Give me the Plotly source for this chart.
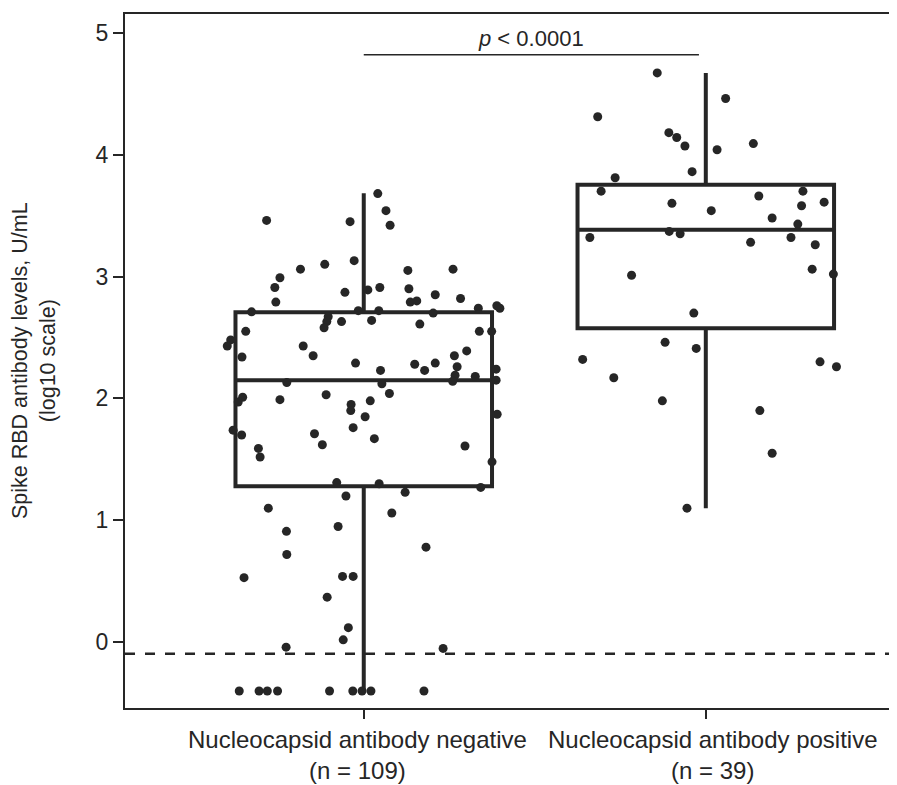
import plotly.graph_objects as go

# ---------------- data ----------------
categories = ["Nucleocapsid antibody negative<br>(n = 109)",
              "Nucleocapsid antibody positive<br>(n = 39)"]
cat_pos = [0, 1]

# box statistics (log10 U/mL)
q1 = [1.28, 2.575]
median = [2.15, 3.384]
q3 = [2.707, 3.753]
lowerfence = [-0.405, 1.10]
upperfence = [3.683, 4.669]

# negative group: value and horizontal jitter offset
neg_vals = [3.68, 3.46, 3.45, 3.54, 3.42, 3.13, 3.10, 3.06, 2.99, 2.91,
            2.79, 2.87, 2.89, 2.91, 3.05, 2.90, 3.06, 2.79, 2.80, 2.85,
            2.82, 2.71, 2.72, 2.72, 2.70, 2.74, 2.76, 2.74, 2.67, 2.63,
            2.58, 2.63, 2.64, 2.61, 2.55, 2.55, 2.55, 2.48, 2.43, 2.43,
            2.35, 2.34, 2.29, 2.23, 2.28, 2.23, 2.29, 2.35, 2.39, 2.26,
            2.24, 2.19, 2.14, 2.18, 2.15, 2.13, 2.12, 2.01, 1.97, 1.99,
            2.03, 1.98, 2.04, 1.95, 1.90, 1.85, 1.87, 1.76, 1.74, 1.70,
            1.71, 1.62, 1.67, 1.59, 1.52, 1.61, 1.48, 1.31, 1.30, 1.27,
            1.20, 1.23, 1.10, 1.06, 0.91, 0.95, 0.72, 0.78, 0.53, 0.54,
            0.54, 0.37, 0.12, 0.02, -0.04, -0.05, -0.40, -0.40, -0.40, -0.40,
            -0.40, -0.40, -0.40, -0.40, -0.40]
neg_jitter = [0.041, -0.284, -0.040, 0.065, 0.077, -0.028, -0.114, -0.185, -0.245, -0.260,
              -0.257, -0.055, 0.012, 0.047, 0.129, 0.132, 0.261, 0.136, 0.155, 0.209,
              0.283, -0.328, -0.016, 0.044, 0.203, 0.335, 0.389, 0.398, -0.104, -0.108,
              -0.116, -0.065, 0.023, 0.164, -0.345, 0.338, 0.374, -0.389, -0.399, -0.177,
              -0.148, -0.356, -0.024, 0.049, 0.149, 0.178, 0.209, 0.265, 0.301, 0.273,
              0.387, 0.267, 0.260, 0.326, 0.387, -0.225, 0.053, -0.354, -0.367, -0.245,
              -0.110, 0.019, 0.075, -0.037, -0.038, 0.004, 0.390, -0.031, -0.382, -0.357,
              -0.144, -0.121, 0.031, -0.308, -0.303, 0.296, 0.375, -0.079, 0.045, 0.342,
              -0.052, 0.121, -0.279, 0.082, -0.226, -0.075, -0.225, 0.182, -0.350, -0.062,
              -0.031, -0.107, -0.045, -0.060, -0.227, 0.232, -0.364, -0.306, -0.282, -0.252,
              -0.100, -0.032, -0.005, 0.021, 0.176]

# positive group
pos_vals = [4.67, 4.31, 4.46, 4.18, 4.14, 4.07, 4.04, 4.09, 3.86, 3.81,
            3.70, 3.60, 3.54, 3.66, 3.70, 3.58, 3.61, 3.48, 3.43, 3.32,
            3.37, 3.35, 3.28, 3.32, 3.26, 3.01, 3.06, 3.02, 2.70, 2.46,
            2.41, 2.32, 2.17, 1.98, 2.30, 2.26, 1.90, 1.55, 1.10]
pos_jitter = [-0.142, -0.316, 0.058, -0.108, -0.085, -0.061, 0.033, 0.139, -0.040, -0.265,
              -0.306, -0.099, 0.016, 0.155, 0.284, 0.280, 0.346, 0.194, 0.269, -0.339,
              -0.107, -0.075, 0.131, 0.249, 0.320, -0.217, 0.311, 0.373, -0.035, -0.119,
              -0.028, -0.360, -0.269, -0.127, 0.334, 0.382, 0.158, 0.194, -0.055]

lod = -0.094          # dashed reference line
bracket_y = 4.818
p_text = "<i>p</i> < 0.0001"
y_ticks = [0, 1, 2, 3, 4, 5]

# ---------------- figure ----------------
DARK = "#262626"
FONT = "Liberation Sans, Arial, sans-serif"

fig = go.Figure()

fig.add_trace(go.Box(
    x=cat_pos, q1=q1, median=median, q3=q3,
    lowerfence=lowerfence, upperfence=upperfence,
    width=0.75, whiskerwidth=0, boxpoints=False,
    fillcolor="rgba(0,0,0,0)",
    line=dict(color=DARK, width=4),
    showlegend=False, hoverinfo="skip",
))

fig.add_trace(go.Scatter(
    x=[cat_pos[0] + j for j in neg_jitter], y=neg_vals,
    mode="markers", marker=dict(size=9, color=DARK),
    showlegend=False,
))
fig.add_trace(go.Scatter(
    x=[cat_pos[1] + j for j in pos_jitter], y=pos_vals,
    mode="markers", marker=dict(size=9, color=DARK),
    showlegend=False,
))

# dashed limit line
fig.add_shape(type="line", xref="paper", x0=0, x1=1, yref="y", y0=lod, y1=lod,
              line=dict(color=DARK, width=2.5, dash="10px,10px"))
# significance bracket
fig.add_shape(type="line", xref="x", x0=cat_pos[0], x1=0.98, yref="y",
              y0=bracket_y, y1=bracket_y, line=dict(color=DARK, width=1.5))
fig.add_annotation(x=0.49, y=bracket_y, xref="x", yref="y", text=p_text,
                   showarrow=False, yanchor="bottom", yshift=2,
                   font=dict(family=FONT, size=22, color=DARK))
# y title
fig.add_annotation(x=0, y=0.5, xref="paper", yref="paper",
                   text="Spike RBD antibody levels, U/mL<br>(log10 scale)",
                   textangle=-90, showarrow=False, xanchor="center", yanchor="middle",
                   xshift=-91, font=dict(family=FONT, size=21.5, color=DARK))
# category labels (slightly spread outward as in the original)
for pos, lab, sh in zip(cat_pos, categories, [-6, 7]):
    fig.add_annotation(x=pos, y=0, xref="x", yref="paper", text=lab,
                       showarrow=False, xanchor="center", yanchor="top",
                       xshift=sh, yshift=-16,
                       font=dict(family=FONT, size=24, color=DARK))

# page body adds an 8px offset, so the figure is sized to compensate
fig.update_layout(
    width=889, height=777,
    margin=dict(l=117, r=0, t=6, b=77),
    plot_bgcolor="white", paper_bgcolor="white",
    font=dict(family=FONT, color=DARK),
)
fig.update_xaxes(
    range=[-0.698, 1.559], tickvals=cat_pos, showticklabels=False,
    showline=True, mirror=True, linecolor=DARK, linewidth=2,
    ticks="outside", ticklen=9, tickwidth=1.5, tickcolor=DARK,
    showgrid=False, zeroline=False,
)
fig.update_yaxes(
    range=[-0.539, 5.153], tickvals=y_ticks,
    showline=True, linecolor=DARK, linewidth=2,
    ticks="outside", ticklen=10, tickwidth=2, tickcolor=DARK,
    showgrid=False, zeroline=False, tickfont=dict(size=23, family=FONT, color=DARK),
)

fig.write_html("out.html")
